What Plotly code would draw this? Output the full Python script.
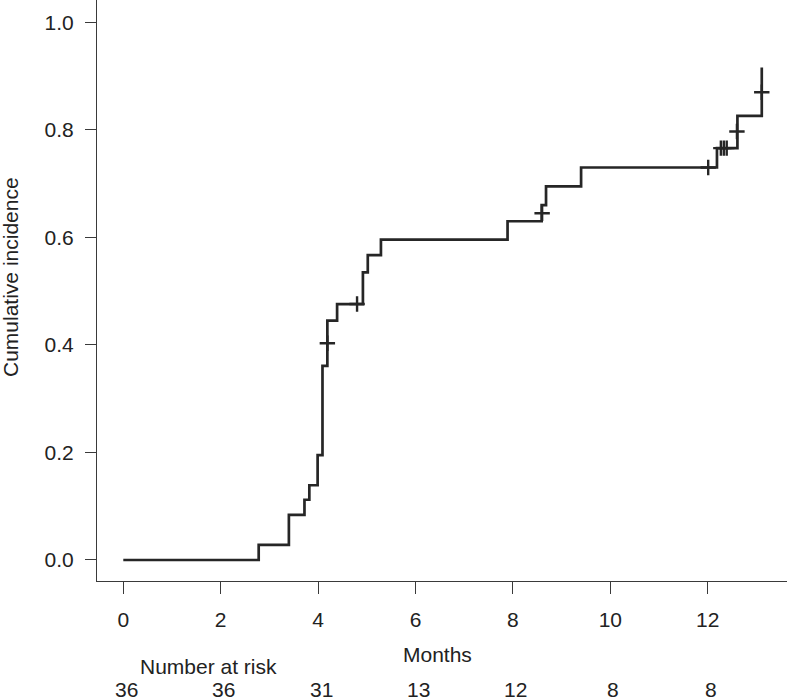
import plotly.graph_objects as go

# Step curve (event times in months and cumulative incidence after each step)
step_times = [0, 2.78, 3.40, 3.72, 3.82, 3.99, 4.09, 4.19, 4.39, 4.92, 5.02, 5.29,
              7.89, 8.59, 8.68, 9.40, 12.19, 12.61, 13.11]
step_values = [0.0, 0.028, 0.084, 0.112, 0.139, 0.195, 0.361, 0.445, 0.476, 0.535, 0.567,
               0.596, 0.630, 0.660, 0.695, 0.730, 0.766, 0.826, 0.916]

# Censoring marks
censor_times = [4.19, 4.80, 8.60, 12.01, 12.27, 12.33, 12.39, 12.60, 13.11]
censor_values = [0.403, 0.476, 0.645, 0.730, 0.766, 0.766, 0.766, 0.797, 0.870]

# Axes ticks
x_ticks = [0, 2, 4, 6, 8, 10, 12]
y_ticks = [0.0, 0.2, 0.4, 0.6, 0.8, 1.0]

# Number at risk
risk_times = [0, 2, 4, 6, 8, 10, 12]
risk_counts = [36, 36, 31, 13, 12, 8, 8]

FONT = "Liberation Sans, Arial, Helvetica, sans-serif"
CURVE = "#262626"
TXT = "#222222"
AX = "#3a3a3a"
FS = 21

W, H = 787, 700
L, R, T, B = 97, 0, 0, 119
pw, ph = W - L - R, H - T - B

fig = go.Figure()
fig.add_trace(go.Scatter(
    x=step_times, y=step_values, mode="lines", line_shape="hv",
    line=dict(color=CURVE, width=2.7), showlegend=False, hoverinfo="skip"))
fig.add_trace(go.Scatter(
    x=censor_times, y=censor_values, mode="markers",
    marker=dict(symbol="cross-thin", size=11, line=dict(color=CURVE, width=2.4)),
    showlegend=False, hoverinfo="skip"))

annotations = []
for t, n in zip(risk_times, risk_counts):
    annotations.append(dict(x=t, y=(ph - 689) / ph, xref="x", yref="paper",
                            text=str(n), showarrow=False, xshift=3, borderpad=0,
                            font=dict(family=FONT, size=FS, color=TXT),
                            xanchor="center", yanchor="middle"))
annotations.append(dict(x=(437 - L) / pw, y=(ph - 654) / ph, xref="paper", yref="paper",
                        text="Months", showarrow=False,
                        font=dict(family=FONT, size=FS, color=TXT),
                        xanchor="center", yanchor="middle"))
annotations.append(dict(x=(208 - L) / pw, y=(ph - 666) / ph, xref="paper", yref="paper",
                        text="Number at risk", showarrow=False, borderpad=0,
                        font=dict(family=FONT, size=FS, color=TXT),
                        xanchor="center", yanchor="middle"))
annotations.append(dict(x=(10 - L) / pw, y=(ph - 277) / ph, xref="paper", yref="paper",
                        text="Cumulative incidence", showarrow=False, textangle=-90,
                        font=dict(family=FONT, size=FS, color=TXT),
                        xanchor="center", yanchor="middle"))

fig.update_layout(
    width=W, height=H,
    margin=dict(l=L, r=R, t=T, b=B),
    paper_bgcolor="white", plot_bgcolor="white",
    font=dict(family=FONT, size=FS, color=TXT),
    annotations=annotations,
    xaxis=dict(range=[-0.540, 13.628], tickvals=x_ticks, ticktext=[str(v) for v in x_ticks],
               showgrid=False, zeroline=False, showline=True, linecolor=AX, linewidth=1,
               ticks="outside", ticklen=12, tickwidth=1, tickcolor=AX,
               ticklabelstandoff=8, tickfont=dict(family=FONT, size=FS, color=TXT)),
    yaxis=dict(range=[-0.0391, 1.0415], tickvals=y_ticks, ticktext=[f"{v:.1f}" for v in y_ticks],
               showgrid=False, zeroline=False, showline=True, linecolor=AX, linewidth=1,
               ticks="outside", ticklen=11, tickwidth=1, tickcolor=AX,
               ticklabelstandoff=7, tickfont=dict(family=FONT, size=FS, color=TXT)),
)

fig.write_html("out.html", config={"displayModeBar": False},
               post_script="document.body.style.margin='0px';document.body.style.overflow='hidden';")
